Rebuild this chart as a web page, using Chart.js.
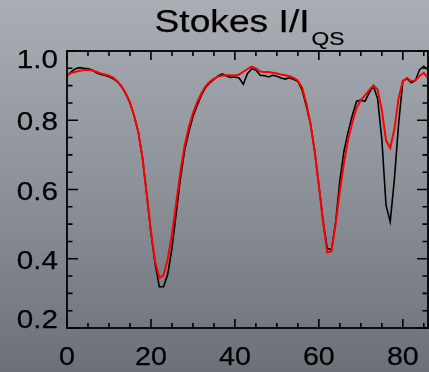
<!DOCTYPE html>
<html>
<head>
<meta charset="utf-8">
<script src="https://cdn.jsdelivr.net/npm/chart.js@4.4.1/dist/chart.umd.min.js"></script>
<style>
  html, body { margin: 0; padding: 0; width: 429px; height: 372px; overflow: hidden; }
  body { background: linear-gradient(to bottom, #a9aeb5 0%, #8d9199 50%, #6c7078 100%); }
  #wrap { position: relative; width: 429px; height: 372px; }
</style>
</head>
<body>
<div id="wrap"><canvas id="c" width="429" height="372"></canvas></div>
<script>
// ---- data ----
const titleMain = "Stokes I/I";
const titleSub = "QS";
const pixelPosition = [0,1,2,3,4,5,6,7,8,9,10,11,12,13,14,15,16,17,18,19,20,21,22,23,24,25,26,27,28,29,30,31,32,33,34,35,36,37,38,39,40,41,42,43,44,45,46,47,48,49,50,51,52,53,54,55,56,57,58,59,60,61,62,63,64,65,66,67,68,69,70,71,72,73,74,75,76,77,78,79,80,81,82,83,84,85,86];
const observedI = [0.927,0.940,0.949,0.952,0.950,0.949,0.945,0.937,0.932,0.930,
  0.926,0.920,0.911,0.897,0.876,0.850,0.812,0.765,0.690,0.585,
  0.475,0.385,0.319,0.319,0.355,0.430,0.530,0.630,0.712,0.765,
  0.810,0.843,0.872,0.895,0.908,0.918,0.928,0.934,0.928,0.924,
  0.925,0.922,0.904,0.935,0.948,0.945,0.930,0.929,0.925,0.930,
  0.927,0.922,0.919,0.923,0.918,0.912,0.888,0.842,0.790,0.711,
  0.612,0.509,0.430,0.426,0.505,0.625,0.712,0.768,0.815,0.855,
  0.858,0.855,0.880,0.898,0.862,0.745,0.555,0.507,0.630,0.790,
  0.913,0.920,0.908,0.915,0.946,0.956,0.946];
const fitI = [0.931,0.936,0.940,0.943,0.945,0.946,0.944,0.940,0.935,0.932,
  0.929,0.923,0.913,0.899,0.878,0.852,0.814,0.765,0.690,0.585,
  0.480,0.392,0.345,0.352,0.400,0.470,0.560,0.650,0.725,0.780,
  0.820,0.852,0.877,0.898,0.911,0.920,0.926,0.929,0.930,0.930,
  0.929,0.932,0.940,0.948,0.955,0.950,0.941,0.939,0.939,0.937,
  0.935,0.932,0.930,0.927,0.922,0.914,0.895,0.850,0.790,0.711,
  0.612,0.505,0.418,0.422,0.500,0.595,0.678,0.745,0.795,0.836,
  0.858,0.872,0.887,0.901,0.888,0.830,0.742,0.720,0.775,0.864,
  0.913,0.922,0.913,0.915,0.928,0.937,0.922];
const xMajorTicks = [0, 20, 40, 60, 80];
const xMajorLabels = ["0", "20", "40", "60", "80"];
const xMinorStep = 5;
const yMajorTicks = [0.2, 0.4, 0.6, 0.8, 1.0];
const yMajorLabels = ["0.2", "0.4", "0.6", "0.8", "1.0"];
const yMinorStep = 0.05;
const xRange = [0, 86];
const yRange = [0.2, 1.0];

// ---- build datasets ----
const toPoints = (ys) => pixelPosition.map((x, i) => ({ x: x, y: ys[i] }));

const FONT = '"Liberation Sans", Arial, Helvetica, sans-serif';

function softText(ctx, txt, x, y, w) {
  ctx.lineWidth = w;
  ctx.lineJoin = 'round';
  ctx.strokeText(txt, x, y);
  ctx.fillText(txt, x, y);
}

const idlAxes = {
  id: 'idlAxes',
  afterDraw(chart) {
    const ctx = chart.ctx;
    const a = chart.chartArea;
    const xs = chart.scales.x, ys = chart.scales.y;
    ctx.save();
    ctx.strokeStyle = '#000';
    ctx.fillStyle = '#000';
    ctx.lineWidth = 1.8;
    // frame
    ctx.strokeRect(a.left, a.top, a.right - a.left, a.bottom - a.top);
    // x ticks (bottom & top, inward)
    ctx.lineWidth = 1.6;
    ctx.beginPath();
    for (let v = xRange[0]; v <= xRange[1] + 1e-9; v += xMinorStep) {
      const px = xs.getPixelForValue(v);
      const major = xMajorTicks.includes(v);
      const len = major ? 9 : 5;
      ctx.moveTo(px, a.bottom); ctx.lineTo(px, a.bottom - len);
      ctx.moveTo(px, a.top); ctx.lineTo(px, a.top + len);
    }
    // y ticks (left & right, inward)
    for (let k = 0; yRange[0] + k * yMinorStep <= yRange[1] + 1e-9; k++) {
      const v = yRange[0] + k * yMinorStep;
      const py = ys.getPixelForValue(v);
      const major = (k % 4 === 0);
      const len = major ? 11 : 5.5;
      ctx.moveTo(a.left, py); ctx.lineTo(a.left + len, py);
      ctx.moveTo(a.right, py); ctx.lineTo(a.right - len, py);
    }
    ctx.stroke();

    // tick labels
    ctx.font = '26px ' + FONT;
    ctx.textBaseline = 'alphabetic';
    xMajorTicks.forEach((v, i) => {
      const px = xs.getPixelForValue(v);
      ctx.save();
      ctx.translate(px, a.bottom + 37);
      ctx.scale(1.1, 1);
      ctx.textAlign = 'center';
      softText(ctx, xMajorLabels[i], 0, 0, 0.25);
      ctx.restore();
    });
    yMajorTicks.forEach((v, i) => {
      const py = ys.getPixelForValue(v);
      let base = py + 10;
      base = Math.max(base, a.top + 17);
      base = Math.min(base, a.bottom);
      ctx.save();
      ctx.translate(a.left - 9, base);
      ctx.scale(1.14, 1);
      ctx.textAlign = 'right';
      softText(ctx, yMajorLabels[i], 0, 0, 0.25);
      ctx.restore();
    });

    // title with subscript
    ctx.save();
    ctx.font = '31px ' + FONT;
    const tsx = 1.2;
    const wMain = ctx.measureText(titleMain).width * tsx;
    ctx.font = '19px ' + FONT;
    const wSub = ctx.measureText(titleSub).width * tsx;
    const total = wMain + wSub + 2;
    const cx = (a.left + a.right) / 2 + 2;
    const x0 = cx - total / 2;
    ctx.textAlign = 'left';
    ctx.translate(x0, 32);
    ctx.scale(tsx, 1);
    ctx.font = '31px ' + FONT;
    softText(ctx, titleMain, 0, 0, 0.25);
    ctx.font = '19px ' + FONT;
    softText(ctx, titleSub, (wMain + 2) / tsx, 13, 0.2);
    ctx.restore();

    ctx.restore();
  }
};

new Chart(document.getElementById('c'), {
  type: 'line',
  data: {
    datasets: [
      { label: 'Fit', data: toPoints(fitI), borderColor: '#ff0000', borderWidth: 2, pointRadius: 0, tension: 0, fill: false },
      { label: 'Observed', data: toPoints(observedI), borderColor: '#000000', borderWidth: 1.6, pointRadius: 0, tension: 0, fill: false }
    ]
  },
  options: {
    responsive: false,
    animation: false,
    devicePixelRatio: 1,
    layout: { padding: { left: 67, top: 51, right: 1, bottom: 44 } },
    plugins: { legend: { display: false }, tooltip: { enabled: false }, title: { display: false } },
    scales: {
      x: {
        type: 'linear', min: xRange[0], max: xRange[1],
        grid: { display: false, drawTicks: false }, border: { display: false },
        ticks: { display: false },
        afterFit(s) { s.height = 0; }
      },
      y: {
        type: 'linear', min: yRange[0], max: yRange[1],
        grid: { display: false, drawTicks: false }, border: { display: false },
        ticks: { display: false },
        afterFit(s) { s.width = 0; }
      }
    }
  },
  plugins: [idlAxes]
});
</script>
</body>
</html>
